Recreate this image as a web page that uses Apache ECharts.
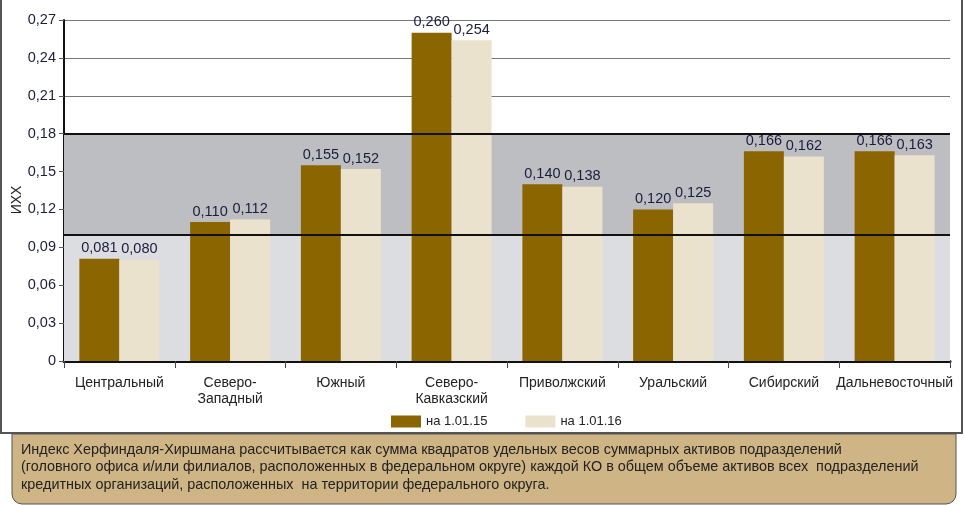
<!DOCTYPE html>
<html><head><meta charset="utf-8">
<script src="https://cdn.jsdelivr.net/npm/echarts@6/dist/echarts.min.js"></script>
<style>html,body{margin:0;padding:0;background:#fff}#c{width:964px;height:505px}</style>
</head><body><div id="c"></div>
<script>
var categories = ['Центральный','Северо-\nЗападный','Южный','Северо-\nКавказский','Приволжский','Уральский','Сибирский','Дальневосточный'];
var series2015 = [0.081,0.110,0.155,0.260,0.140,0.120,0.166,0.166];
var series2016 = [0.080,0.112,0.152,0.254,0.138,0.125,0.162,0.163];
var seriesNames = ['на 1.01.15','на 1.01.16'];
var yName = 'ИХХ';
var bandLow = [0, 0.10];
var bandHigh = [0.10, 0.18];
var footnote = ['Индекс Херфиндаля-Хиршмана рассчитывается как сумма квадратов удельных весов суммарных активов подразделений',
 '(головного офиса и/или филиалов, расположенных в федеральном округе) каждой КО в общем объеме активов всех  подразделений',
 'кредитных организаций, расположенных  на территории федерального округа.'];

var FONT = 'Liberation Sans, Arial, sans-serif';
var chart = echarts.init(document.getElementById('c'));
function fmt(v){ return v === 0 ? '0' : v.toFixed(2).replace('.', ','); }
function lbl(p){ return p.value.toFixed(3).replace('.', ','); }
var labelStyle = {show:true, position:'top', distance:3, formatter:lbl, color:'#1c1c3c', fontSize:14.5, fontFamily:FONT};

chart.setOption({
  animation:false,
  grid:{left:64, right:14, top:20, bottom:144, containLabel:false, outerBoundsMode:'none'},
  legend:{left:386, top:410, itemWidth:30, itemHeight:12, itemGap:38, icon:'rect',
    textStyle:{fontSize:13, color:'#222', fontFamily:FONT}, data:seriesNames},
  xAxis:{type:'category', data:categories,
    axisLine:{lineStyle:{color:'#111', width:3}},
    axisTick:{show:true, length:7, lineStyle:{color:'#444'}},
    axisLabel:{margin:14, fontSize:14, color:'#222', fontFamily:FONT, lineHeight:16, interval:0}},
  yAxis:{type:'value', min:0, max:0.27, interval:0.03,
    axisLine:{show:true, lineStyle:{color:'#111', width:2}},
    axisTick:{show:true, length:5, lineStyle:{color:'#555'}},
    axisLabel:{formatter:fmt, fontSize:14.5, color:'#1c1c3c', fontFamily:FONT, margin:8},
    splitLine:{lineStyle:{color:'#777', width:1}}},
  series:[
    {type:'line', data:[], z:1, silent:true,
      markArea:{silent:true, data:[
        [{yAxis:bandLow[0], itemStyle:{color:'#dcdde0'}},{yAxis:bandLow[1]}],
        [{yAxis:bandHigh[0], itemStyle:{color:'#bdbec2'}},{yAxis:bandHigh[1]}]]},
      markLine:{silent:true, symbol:'none', label:{show:false},
        lineStyle:{color:'#111', width:2, type:'solid'},
        data:[{yAxis:bandHigh[0]},{yAxis:bandHigh[1]}]}},
    {name:seriesNames[0], type:'bar', data:series2015, barWidth:40, barGap:'0%', z:3,
      itemStyle:{color:'#8a6500'}, label:labelStyle},
    {name:seriesNames[1], type:'bar', data:series2016, barWidth:40, barGap:'0%', z:3,
      itemStyle:{color:'#ebe2cd'}, label:labelStyle}
  ],
  graphic:[
    {type:'polyline', silent:true, shape:{points:[[1,0],[1,433],[962,433],[962,0]]},
      style:{stroke:'#555', lineWidth:2, fill:null}},
    {type:'text', silent:true, x:17, y:200, rotation:Math.PI/2,
      style:{text:yName, fill:'#222', font:'14px ' + FONT, align:'center', verticalAlign:'middle'}},
    {type:'rect', silent:true, shape:{x:12, y:434, width:944, height:70, r:[0,0,10,10]},
      style:{fill:'#cfb585', stroke:'#555', lineWidth:1}},
    {type:'text', silent:true, left:21, top:441,
      style:{text:footnote.join('\n'), fill:'#222', font:'14.4px ' + FONT, lineHeight:17.5}}
  ]
});
</script></body></html>
